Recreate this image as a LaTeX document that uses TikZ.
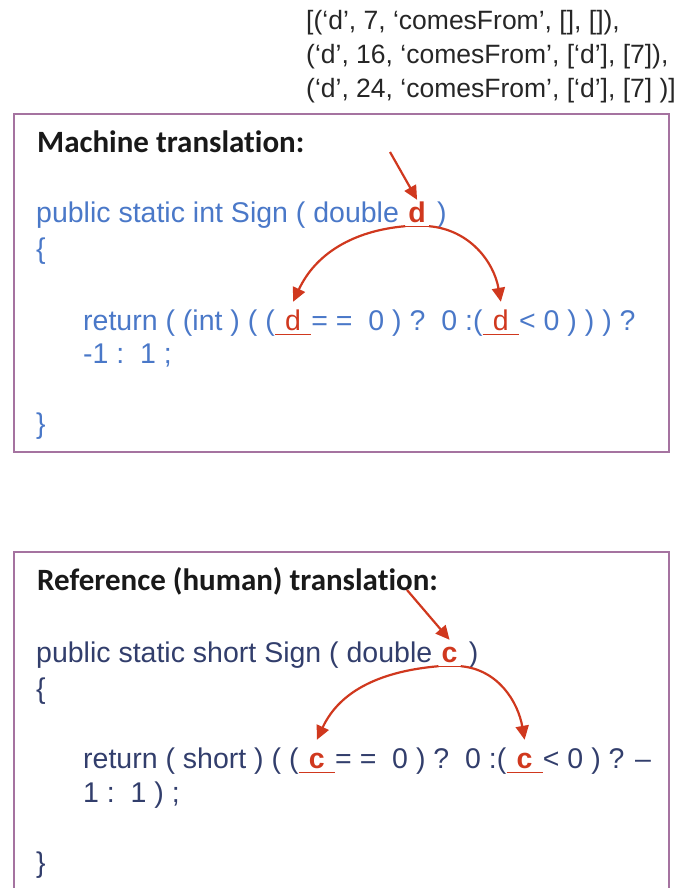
\documentclass[tikz,border=0pt]{standalone}
\usepackage{fontspec}
\setmainfont{Liberation Sans}
\newfontfamily\headfont[Ligatures=CommonOff]{Carlito}
\usetikzlibrary{positioning}
\usetikzlibrary{arrows.meta}
\definecolor{mtblue}{RGB}{74,120,200}
\definecolor{refnavy}{RGB}{50,62,108}
\definecolor{hlred}{RGB}{208,56,30}
\definecolor{boxpurple}{RGB}{165,115,160}

\begin{document}
\begin{tikzpicture}[x=1pt, y=-1pt,
    every node/.style={inner sep=0pt},
    listtxt/.style={anchor=base west, font=\fontsize{26.5pt}{32pt}\selectfont, text=black!85},
    frame/.style={draw=boxpurple, line width=1.8pt},
    head/.style={anchor=base west, font=\headfont\bfseries\fontsize{31pt}{36pt}\selectfont, text=black!90},
    codetxt/.style={anchor=base west, font=\fontsize{28.5pt}{34pt}\selectfont},
    mcode/.style={codetxt, text=mtblue},
    rcode/.style={codetxt, text=refnavy},
    rvar/.style={text=hlred, inner xsep=3pt, text height=22pt, text depth=4pt},
    retvar/.style={rvar, inner xsep=10pt},
    link/.style={draw=hlred, line width=2.2pt, -{Triangle[length=14pt, width=13pt]}},
    uline/.style={draw=hlred, line width=1.2pt}]
    \useasboundingbox (0,0) rectangle (682,888);
    % tuple list on top
    \foreach \i/\row in {0/{[(`d', 7, `comesFrom', [], []),}, 1/{(`d', 16, `comesFrom', [`d'], [7]),}, 2/{(`d', 24, `comesFrom', [`d'], [7] )]}} {
        \pgfmathsetmacro\y{30+34*\i}
        \node[listtxt] (list\i) at (306,\y) {\row};
    }
    % machine translation
    \draw[frame] (14,114) rectangle (669,452);
    \node[head] (mhead) at (37,152) {Machine translation:};
    \node[mcode] (msig) at (36,222) {public static int Sign ( double};
    \node[mcode, rvar] (md0) at ([xshift=6pt]msig.base east) {\bfseries d};
    \node[mcode] (msig2) at (md0.base east) {\ )};
    \node[mcode] (mopen) at (36,258) {\{};
    \node[mcode] (mret) at (83,330) {return ( (int ) ( (};
    \node[mcode, retvar] (md1) at (mret.base east) {d};
    \node[mcode] (mret2) at (md1.base east) {= =\ \ 0 ) ?\ \ 0 :(};
    \node[mcode, retvar] (md2) at (mret2.base east) {d};
    \node[mcode] (mret3) at (md2.base east) {< 0 ) ) ) ?};
    \node[mcode] (mret4) at (83,363) {-1 :\ \ 1 ;};
    \node[mcode] (mclose) at (36,433) {\}};
    \foreach \v in {md0,md1,md2}
        \draw[uline] (\v.south west) -- (\v.south east);
    \coordinate (mtail) at (390,152);
    \draw[link] (mtail) -- (md0.north);
    \draw[link] (md0.south west) to[out=185, in=65] ([yshift=6pt]md1.north);
    \draw[link] (md0.south east) to[out=-5, in=100] ([yshift=6pt]md2.north);
    % reference translation
    \draw[frame] (14,888) -- (14,552) -- (669,552) -- (669,888);
    \node[head] (rhead) at (37,590) {Reference (human) translation:};
    \node[rcode] (rsig) at (36,662) {public static short Sign ( double};
    \node[rcode, rvar] (rc0) at ([xshift=6pt]rsig.base east) {\bfseries c};
    \node[rcode] (rsig2) at (rc0.base east) {\ )};
    \node[rcode] (ropen) at (36,698) {\{};
    \node[rcode] (rret) at (83,768) {return ( short ) ( (};
    \node[rcode, retvar] (rc1) at (rret.base east) {\bfseries c};
    \node[rcode] (rret2) at (rc1.base east) {= =\ \ 0 ) ?\ \ 0 :(};
    \node[rcode, retvar] (rc2) at (rret2.base east) {\bfseries c};
    \node[rcode] (rret3) at (rc2.base east) {< 0 ) ? --};
    \node[rcode] (rret4) at (83,802) {1 :\ \ 1 ) ;};
    \node[rcode] (rclose) at (36,872) {\}};
    \foreach \v in {rc0,rc1,rc2}
        \draw[uline] (\v.south west) -- (\v.south east);
    \coordinate (rtail) at (407,590);
    \draw[link] (rtail) -- (rc0.north);
    \draw[link] (rc0.south west) to[out=185, in=65] ([yshift=6pt]rc1.north);
    \draw[link] (rc0.south east) to[out=-5, in=100] ([yshift=6pt]rc2.north);
\end{tikzpicture}
\end{document}
